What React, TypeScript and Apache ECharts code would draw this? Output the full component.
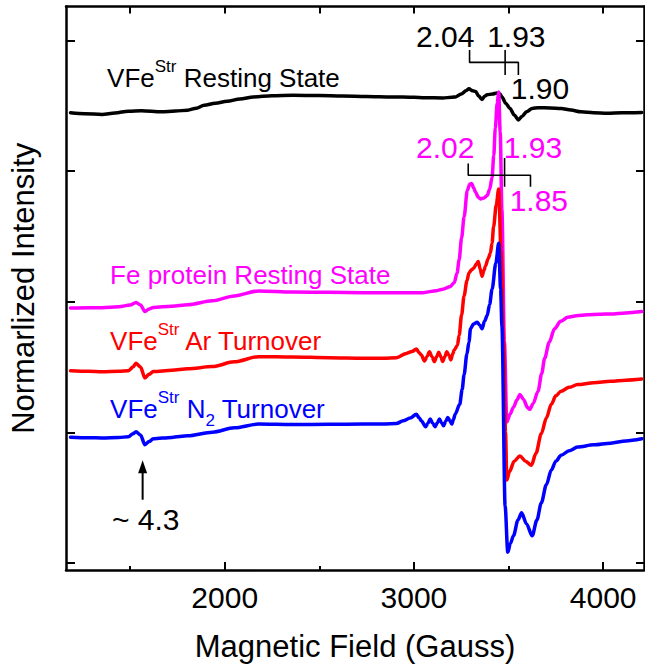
import React, { useEffect, useRef } from 'react';
import * as echarts from 'echarts';

// ---- axis ticks ----
const xMajorTicks = [2000, 3000, 4000];
const xMinorTicks = [1500, 2500, 3500];
const xTopTicks = [1500, 2000, 2500, 3000, 3500, 4000];
const yTicks = [0, 1, 2, 3, 4];

// ---- spectra [field (G), normalized intensity] ----
const vfeResting: [number, number][] = [
  [1185, 3.447], [1260, 3.44], [1352, 3.434], [1420, 3.445], [1491, 3.459], [1560, 3.462], [1665, 3.454],
  [1740, 3.46], [1804, 3.466], [1850, 3.482], [1891, 3.504], [1950, 3.52], [2013, 3.534], [2080, 3.552],
  [2152, 3.568], [2250, 3.577], [2360, 3.58], [2500, 3.578], [2621, 3.575], [2750, 3.572], [2882, 3.568],
  [3000, 3.565], [3056, 3.562], [3152, 3.56], [3200, 3.565], [3221, 3.568], [3250, 3.59], [3275, 3.615],
  [3291, 3.63], [3310, 3.615], [3326, 3.61], [3342, 3.575], [3360, 3.549], [3375, 3.575], [3387, 3.585],
  [3415, 3.59], [3439, 3.598], [3455, 3.59], [3465, 3.568], [3485, 3.52], [3508, 3.479], [3530, 3.43],
  [3552, 3.392], [3572, 3.42], [3595, 3.454], [3625, 3.48], [3656, 3.485], [3720, 3.484], [3778, 3.479],
  [3830, 3.467], [3882, 3.454], [3950, 3.447], [4021, 3.442], [4100, 3.446], [4204, 3.449],
];

const feProteinResting: [number, number][] = [
  [1185, 1.952], [1280, 1.955], [1352, 1.955], [1440, 1.962], [1500, 1.975], [1531, 1.995], [1555, 1.975],
  [1578, 1.925], [1600, 1.945], [1622, 1.957], [1720, 1.965], [1804, 1.977], [1935, 2.008], [2050, 2.045],
  [2178, 2.083], [2360, 2.075], [2550, 2.072], [2734, 2.07], [2900, 2.07], [3047, 2.07], [3120, 2.085],
  [3152, 2.096], [3190, 2.115], [3213, 2.146], [3228, 2.22], [3239, 2.322], [3252, 2.49], [3265, 2.649],
  [3282, 2.851], [3295, 2.9], [3305, 2.906], [3316, 2.87], [3326, 2.838], [3340, 2.8], [3352, 2.787],
  [3370, 2.795], [3387, 2.813], [3400, 2.86], [3413, 2.951], [3422, 3.12], [3430, 3.328], [3440, 3.52],
  [3448, 3.605], [3456, 3.3], [3465, 2.702], [3478, 1.7], [3491, 1.08], [3508, 1.14], [3526, 1.192],
  [3545, 1.25], [3560, 1.291], [3580, 1.25], [3600, 1.19], [3612, 1.177], [3630, 1.22], [3656, 1.316],
  [3675, 1.45], [3691, 1.568], [3715, 1.69], [3743, 1.794], [3775, 1.85], [3813, 1.882], [3860, 1.893],
  [3917, 1.9], [3980, 1.904], [4039, 1.907], [4120, 1.915], [4204, 1.925],
];

const vfeArTurnover: [number, number][] = [
  [1185, 1.472], [1280, 1.468], [1352, 1.464], [1440, 1.468], [1491, 1.472], [1515, 1.5], [1531, 1.53],
  [1555, 1.5], [1578, 1.417], [1600, 1.445], [1622, 1.466], [1720, 1.475], [1804, 1.487], [1935, 1.504],
  [2050, 1.54], [2178, 1.58], [2360, 1.577], [2550, 1.572], [2734, 1.568], [2839, 1.568], [2908, 1.572],
  [2960, 1.605], [2990, 1.62], [3013, 1.638], [3028, 1.61], [3039, 1.592], [3056, 1.547], [3069, 1.58],
  [3082, 1.617], [3095, 1.58], [3108, 1.542], [3120, 1.58], [3131, 1.613], [3142, 1.58], [3152, 1.542],
  [3163, 1.58], [3174, 1.617], [3185, 1.59], [3195, 1.555], [3205, 1.6], [3213, 1.63], [3230, 1.668],
  [3239, 1.743], [3252, 1.9], [3265, 2.045], [3280, 2.16], [3291, 2.221], [3305, 2.245], [3317, 2.259],
  [3330, 2.29], [3340, 2.309], [3350, 2.25], [3360, 2.196], [3370, 2.24], [3378, 2.272], [3392, 2.33],
  [3404, 2.372], [3413, 2.45], [3421, 2.574], [3435, 2.74], [3448, 2.863], [3460, 2.4], [3474, 1.693],
  [3484, 1.0], [3491, 0.636], [3505, 0.7], [3530, 0.78], [3560, 0.82], [3590, 0.78], [3621, 0.749],
  [3645, 0.84], [3673, 0.989], [3700, 1.11], [3726, 1.215], [3750, 1.28], [3778, 1.316], [3820, 1.345],
  [3865, 1.366], [3950, 1.38], [4039, 1.391], [4120, 1.4], [4204, 1.409],
];

const vfeN2Turnover: [number, number][] = [
  [1185, 0.964], [1280, 0.96], [1352, 0.958], [1440, 0.962], [1491, 0.966], [1515, 0.99], [1531, 1.006],
  [1555, 0.98], [1578, 0.906], [1600, 0.93], [1622, 0.951], [1720, 0.962], [1804, 0.974], [1935, 1.002],
  [2050, 1.035], [2178, 1.064], [2360, 1.06], [2550, 1.062], [2734, 1.064], [2839, 1.064], [2908, 1.069],
  [2943, 1.089], [2980, 1.11], [3013, 1.14], [3028, 1.11], [3039, 1.089], [3062, 1.044], [3074, 1.07],
  [3086, 1.102], [3099, 1.07], [3112, 1.044], [3124, 1.075], [3135, 1.102], [3146, 1.075], [3157, 1.051],
  [3168, 1.085], [3179, 1.115], [3190, 1.09], [3200, 1.064], [3209, 1.1], [3218, 1.14], [3242, 1.215],
  [3255, 1.33], [3265, 1.442], [3280, 1.6], [3291, 1.693], [3299, 1.794], [3315, 1.83], [3334, 1.844],
  [3348, 1.82], [3360, 1.794], [3373, 1.85], [3387, 1.894], [3400, 1.98], [3413, 2.096], [3433, 2.297],
  [3448, 2.448], [3458, 2.1], [3465, 1.819], [3482, 0.435], [3496, 0.083], [3510, 0.15], [3526, 0.209],
  [3550, 0.33], [3569, 0.385], [3595, 0.3], [3625, 0.209], [3650, 0.33], [3673, 0.46], [3700, 0.6],
  [3726, 0.712], [3750, 0.78], [3778, 0.825], [3820, 0.86], [3865, 0.888], [3950, 0.905], [4039, 0.918],
  [4120, 0.935], [4204, 0.951],
];

// ---- g-value brackets (data coords) ----
const bracketBlackOuter: [number, number][] = [[3294, 3.927], [3294, 3.832], [3552, 3.832], [3552, 3.736]];
const bracketBlackMid: [number, number][] = [[3482, 3.927], [3482, 3.736]];
const bracketPinkOuter: [number, number][] = [[3287, 3.059], [3287, 2.968], [3616, 2.968], [3616, 2.881]];
const bracketPinkMid: [number, number][] = [[3479, 3.1], [3479, 2.881]];

// ---- labels ----
const gValueLabels = [
  { text: '2.04', at: [3011, 4.032], color: '#000000' },
  { text: '1.93', at: [3387, 4.032], color: '#000000' },
  { text: '1.90', at: [3512, 3.63], color: '#000000' },
  { text: '2.02', at: [3011, 3.177], color: '#FF00FF' },
  { text: '1.93', at: [3475, 3.177], color: '#FF00FF' },
  { text: '1.85', at: [3506, 2.777], color: '#FF00FF' },
];
const seriesLabels = [
  { text: 'VFe{sup|Str} Resting State', at: [1378, 3.713], color: '#000000' },
  { text: 'Fe protein Resting State', at: [1394, 2.204], color: '#FF00FF' },
  { text: 'VFe{sup|Str} Ar Turnover', at: [1394, 1.698], color: '#FF0000' },
  { text: 'VFe{sup|Str} N{sub|2} Turnover', at: [1394, 1.177], color: '#0000FF' },
];
const arrowTip: [number, number] = [1566, 0.787];
const arrowTail: [number, number] = [1566, 0.485];
const arrowLabel = { text: '~ 4.3', at: [1404, 0.332] };

const FONT = '"Liberation Sans", Arial, Helvetica, sans-serif';
const X_MIN = 1161;
const X_MAX = 4216;
const Y_MIN = -0.053;
const Y_MAX = 4.26;

export default function App() {
  const ref = useRef<HTMLDivElement>(null);

  useEffect(() => {
    if (!ref.current) return;
    const chart = echarts.init(ref.current, null, { renderer: 'svg' });
    const axisLineStyle = { color: '#000', width: 2.5 };
    const tickStyle = { color: '#000', width: 2 };

    const spectrum = (name: string, data: [number, number][], color: string) => ({
      type: 'line',
      name,
      data,
      xAxisIndex: 0,
      yAxisIndex: 0,
      showSymbol: false,
      symbol: 'none',
      smooth: 0.3,
      smoothMonotone: 'x',
      silent: true,
      lineStyle: { color, width: 3.5, join: 'round', cap: 'round' },
      z: 3,
    });
    const bracket = (data: [number, number][]) => ({
      type: 'line',
      data,
      xAxisIndex: 0,
      yAxisIndex: 0,
      showSymbol: false,
      symbol: 'none',
      silent: true,
      lineStyle: { color: '#000', width: 1.6 },
      z: 4,
    });

    chart.setOption({
      animation: false,
      backgroundColor: '#ffffff',
      grid: { left: 58.3, right: 1, top: 6.5, bottom: 89, containLabel: false },
      xAxis: [
        {
          type: 'value', min: X_MIN, max: X_MAX, position: 'bottom',
          axisLine: { show: true, onZero: false, lineStyle: axisLineStyle },
          axisTick: { show: true, inside: true, length: 8, customValues: xMajorTicks, lineStyle: tickStyle },
          axisLabel: {
            show: true, customValues: xMajorTicks, fontSize: 30, color: '#000', margin: 12, fontFamily: FONT,
            formatter: (v: number) => String(v),
          },
          splitLine: { show: false },
          name: 'Magnetic Field (Gauss)', nameLocation: 'middle', nameGap: 61,
          nameTextStyle: { fontSize: 31, color: '#000', fontFamily: FONT },
        },
        {
          type: 'value', min: X_MIN, max: X_MAX, position: 'bottom',
          axisLine: { show: false, onZero: false },
          axisTick: { show: true, inside: true, length: 4, customValues: xMinorTicks, lineStyle: tickStyle },
          axisLabel: { show: false },
          splitLine: { show: false },
        },
        {
          type: 'value', min: X_MIN, max: X_MAX, position: 'top',
          axisLine: { show: true, onZero: false, lineStyle: axisLineStyle },
          axisTick: { show: true, inside: true, length: 7, customValues: xTopTicks, lineStyle: tickStyle },
          axisLabel: { show: false },
          splitLine: { show: false },
        },
      ],
      yAxis: [
        {
          type: 'value', min: Y_MIN, max: Y_MAX, position: 'left',
          axisLine: { show: true, onZero: false, lineStyle: axisLineStyle },
          axisTick: { show: true, inside: true, length: 9, customValues: yTicks, lineStyle: tickStyle },
          axisLabel: { show: false },
          splitLine: { show: false },
          name: 'Normarlized Intensity', nameLocation: 'middle', nameGap: 27, nameRotate: 90,
          nameTextStyle: { fontSize: 31, color: '#000', fontFamily: FONT },
        },
        {
          type: 'value', min: Y_MIN, max: Y_MAX, position: 'right',
          axisLine: { show: true, onZero: false, lineStyle: axisLineStyle },
          axisTick: { show: true, inside: true, length: 8, customValues: yTicks, lineStyle: tickStyle },
          axisLabel: { show: false },
          splitLine: { show: false },
        },
      ],
      series: [
        spectrum('VFeStr Resting State', vfeResting, '#000000'),
        spectrum('Fe protein Resting State', feProteinResting, '#FF00FF'),
        spectrum('VFeStr Ar Turnover', vfeArTurnover, '#FF0000'),
        spectrum('VFeStr N2 Turnover', vfeN2Turnover, '#0000FF'),
        bracket(bracketBlackOuter),
        bracket(bracketBlackMid),
        bracket(bracketPinkOuter),
        bracket(bracketPinkMid),
      ],
    });

    const px = (p: number[]) => chart.convertToPixel({ xAxisIndex: 0, yAxisIndex: 0 }, p) as number[];

    const graphics: any[] = [];
    gValueLabels.forEach((l) => {
      const [x, y] = px(l.at);
      graphics.push({
        type: 'text', x, y, z: 10, silent: true,
        style: {
          text: l.text, fill: l.color, fontSize: 30, fontFamily: FONT,
          align: 'left', verticalAlign: 'middle', textAlign: 'left', textVerticalAlign: 'middle',
        },
      });
    });
    seriesLabels.forEach((l) => {
      const [x, y] = px(l.at);
      graphics.push({
        type: 'text', x, y, z: 10, silent: true,
        style: {
          text: l.text, fill: l.color, fontSize: 26, fontFamily: FONT, lineHeight: 40,
          align: 'left', verticalAlign: 'middle', textAlign: 'left', textVerticalAlign: 'middle',
          rich: {
            sup: { fontSize: 17, fontFamily: FONT, fill: l.color, lineHeight: 20, verticalAlign: 'top' },
            sub: { fontSize: 17, fontFamily: FONT, fill: l.color, lineHeight: 24, verticalAlign: 'bottom' },
          },
        },
      });
    });
    const [tx, ty] = px(arrowTip);
    const [bx, by] = px(arrowTail);
    graphics.push({
      type: 'line', silent: true, z: 10,
      shape: { x1: bx, y1: by, x2: tx, y2: ty + 8 },
      style: { stroke: '#000', lineWidth: 2 },
    });
    graphics.push({
      type: 'polygon', silent: true, z: 10,
      shape: { points: [[tx, ty], [tx - 4.5, ty + 13], [tx + 4.5, ty + 13]] },
      style: { fill: '#000' },
    });
    {
      const [x, y] = px(arrowLabel.at);
      graphics.push({
        type: 'text', x, y, z: 10, silent: true,
        style: {
          text: arrowLabel.text, fill: '#000', fontSize: 30, fontFamily: FONT,
          align: 'left', verticalAlign: 'middle', textAlign: 'left', textVerticalAlign: 'middle',
        },
      });
    }
    chart.setOption({ graphic: graphics });

    return () => chart.dispose();
  }, []);

  return <div ref={ref} style={{ width: 645, height: 667, position: 'absolute', left: 0, top: 0 }} />;
}
